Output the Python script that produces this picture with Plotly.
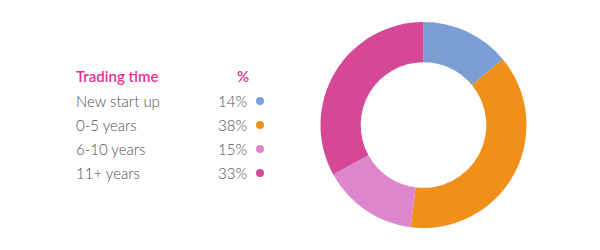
import plotly.graph_objects as go

categories = ["New start up", "0-5 years", "6-10 years", "11+ years"]
values = [14, 38, 15, 33]
colors = ["#7b9fd4", "#f0901a", "#de86cc", "#d44897"]
header_label = "Trading time"
header_pct = "%"

W, H = 600, 250
fig = go.Figure()

fig.add_trace(go.Pie(
    labels=categories, values=values, hole=0.61, sort=False,
    direction="clockwise", rotation=0,
    marker=dict(colors=colors, line=dict(width=0)),
    textinfo="none", hoverinfo="label+percent",
    domain=dict(x=[320 / W, 527 / W], y=[1 - 228 / H, 1 - 22 / H]),
    showlegend=False,
))

row_y = [101, 125, 149, 173]
fig.add_trace(go.Scatter(
    x=[260] * len(values), y=row_y, mode="markers",
    marker=dict(color=colors, size=8, line=dict(width=0)),
    showlegend=False, hoverinfo="skip",
))

font = "Lato, 'Open Sans', sans-serif"
hdr = dict(color="#e5318f", size=15, family=font, weight=600)
body = dict(color="#505050", size=15, family=font, weight=300)
ann = [
    dict(x=74, y=76, text=header_label, xanchor="left", font=hdr),
    dict(x=243, y=76, text=header_pct, xanchor="center", font=hdr),
]
for c, v, y in zip(categories, values, row_y):
    ann.append(dict(x=74, y=y, text=c, xanchor="left", font=body))
    ann.append(dict(x=249, y=y, text=f"{v}%", xanchor="right", font=body))
for a in ann:
    a.update(xref="x", yref="y", yanchor="middle", showarrow=False)

fig.update_layout(
    width=W, height=H, margin=dict(l=0, r=0, t=0, b=0),
    paper_bgcolor="white", plot_bgcolor="rgba(0,0,0,0)",
    xaxis=dict(range=[0, W], visible=False, domain=[0, 1], fixedrange=True),
    yaxis=dict(range=[H, 0], visible=False, domain=[0, 1], fixedrange=True),
    annotations=ann,
)
fig.write_html("out.html")
